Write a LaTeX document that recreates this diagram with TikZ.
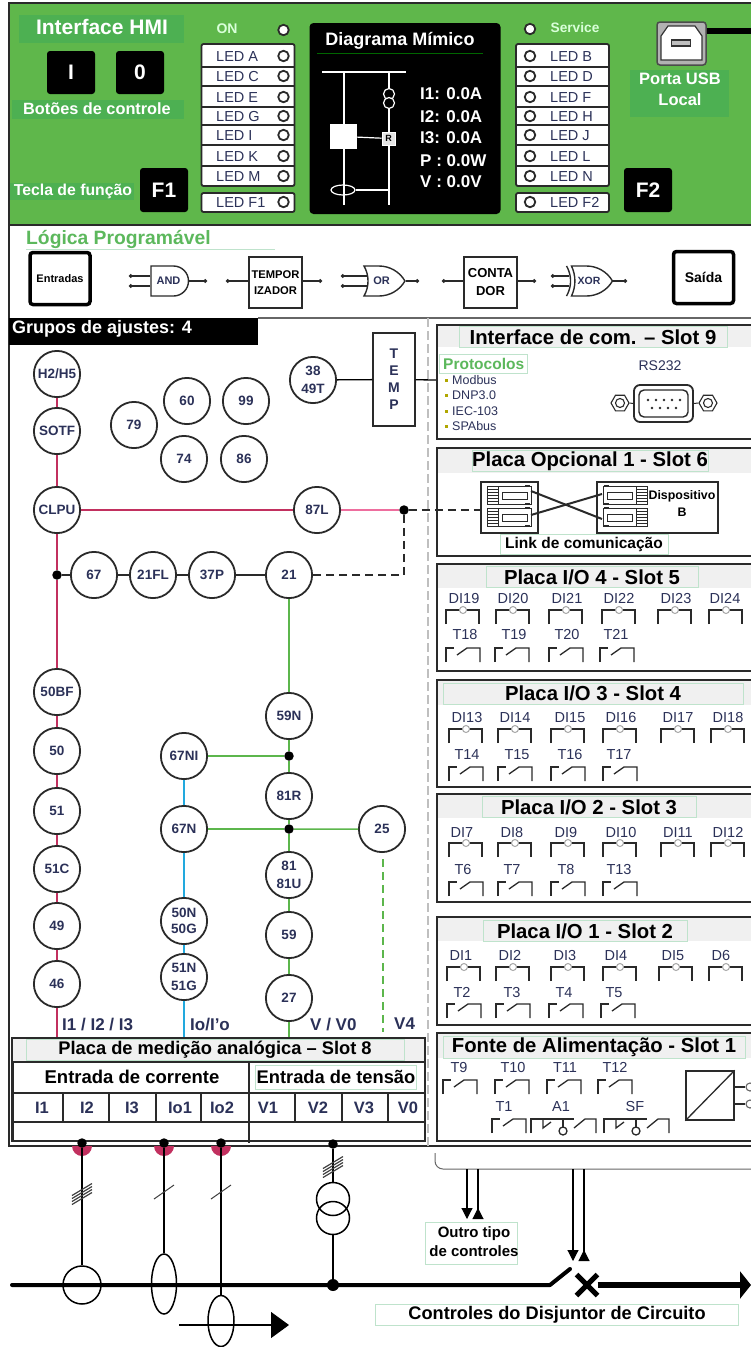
\documentclass[tikz,border=0pt]{standalone}
\usepackage{fontspec}
\setmainfont{Liberation Sans}
\usetikzlibrary{arrows.meta, positioning, shapes.geometric, shapes.gates.logic.US, shapes.misc}
\definecolor{panelgreen}{HTML}{5FB74B}
\definecolor{tagreen}{HTML}{4DB052}
\definecolor{titlegreen}{HTML}{5CB85C}
\definecolor{hairgreen}{HTML}{BFE3CC}
\definecolor{bandgray}{HTML}{F0F0F0}
\definecolor{crimson}{HTML}{C2305F}
\definecolor{pinkline}{HTML}{EE6E9E}
\definecolor{relaygreen}{HTML}{5CB64C}
\definecolor{relayblue}{HTML}{22A9DE}
\definecolor{inkblue}{HTML}{2B3158}
\definecolor{inkline}{HTML}{2A2A2A}
\newcommand{\sz}[1]{\fontsize{#1pt}{#1pt}\selectfont}

% binary input contact, open on the bottom side
\newcommand{\dicont}[2]{
  \draw[contact] (#1,#2+14) -- (#1,#2) -- (#1+33,#2) -- (#1+33,#2+14);
  \draw[lamp] (#1+17,#2) circle[radius=3.5];
}
% output contact
\newcommand{\tcont}[2]{
  \draw[contact] (#1,#2+14) -- (#1,#2) -- (#1+8,#2);
  \draw[contact] (#1+11,#2+7) -- (#1+21,#2) -- (#1+34,#2) -- (#1+34,#2+14);
}
% changeover contact with its common terminal
\newcommand{\chcont}[2]{
  \draw[contact] (#1,#2+14) -- (#1,#2) -- (#1+43,#2);
  \draw[contact] (#1+12,#2) -- (#1+12,#2+9) -- (#1+20,#2+3);
  \draw[contact] (#1+43,#2+9) -- (#1+54,#2) -- (#1+65,#2) -- (#1+65,#2+14);
  \draw[contact] (#1+32,#2) -- (#1+32,#2+8);
  \draw[contact, fill=white] (#1+32,#2+12) circle[radius=4];
}
% slot frame, open at the right edge, with its grey title band
\newcommand{\slotframe}[3]{
  \fill[bandgray] (437,#1) rectangle (751,#3);
  \draw[line width=1.5pt, inkline] (751,#1) -- (437,#1) -- (437,#2) -- (751,#2);
}
% fibre connector, #3 = 1 strip on the left, -1 strip on the right
\newcommand{\fibre}[3]{
  \begin{scope}[shift={(#1,#2)}, x=#3pt]
    \draw[fibreline] (0,0) rectangle (44,18);
    \draw[fibreline] (15,6) rectangle (40,13);
    \foreach \s in {3,6,...,15} \draw[fibreline] (0,\s) -- (11,\s);
    \draw[fibreline] (11,0) -- (11,18);
    \fill[inkline] (38,-1) rectangle (43,1);
    \fill[inkline] (38,17) rectangle (43,19);
  \end{scope}
}

\begin{document}
\begin{tikzpicture}[
  x=1pt, y=-1pt,
  panel/.style={fill=tagreen, minimum height=10pt, inner sep=0pt},
  tagtext/.style={text=white, font=\sz{16.3}\bfseries, inner sep=0pt, align=center},
  keycap/.style={fill=black, rounded corners=3pt, text=white, font=\sz{21}\bfseries, minimum width=48pt, minimum height=43pt, inner sep=0pt},
  ledbox/.style={draw=inkline, line width=1.8pt, fill=white, rounded corners=2pt, minimum width=93pt, inner sep=0pt},
  ledtext/.style={font=\sz{14.5}, text=inkblue, inner sep=0pt, anchor=west, text height=10.4pt, text depth=0pt},
  ledlamp/.style={circle, draw=inkline, line width=1.8pt, fill=white, minimum size=10.5pt, inner sep=0pt},
  mimic/.style={line width=1.2pt, draw=white},
  readout/.style={text=white, font=\sz{17}\bfseries, inner sep=0pt, anchor=west, text height=12.2pt, text depth=0pt},
  pin/.style={line width=1.3pt, inkline, -{Circle[length=3.5pt]}},
  gatebox/.style={draw=inkline, line width=1.4pt, fill=white, minimum width=37pt, minimum height=30pt, inner sep=0pt, logic gate inputs=nn, text=inkblue, font=\sz{11}\bfseries},
  probox/.style={draw=inkline, line width=1.2pt, fill=white, minimum width=53pt, minimum height=51pt, inner sep=0pt, align=center, font=\sz{13}\bfseries},
  iobox/.style={draw=black, line width=3.5pt, fill=white, rounded corners=3pt, minimum width=60pt, minimum height=52pt, inner sep=0pt, font=\sz{14}\bfseries},
  relay/.style={circle, draw=inkline, line width=1.8pt, fill=white, minimum size=46.2pt, inner sep=0pt, align=center, text=inkblue, font=\sz{13.5}\bfseries},
  jdot/.style={circle, fill=black, minimum size=9.5pt, inner sep=0pt},
  redline/.style={line width=1.5pt, crimson},
  greenline/.style={line width=1.5pt, relaygreen},
  blueline/.style={line width=1.5pt, relayblue},
  darkdash/.style={line width=1.1pt, inkline, dash pattern=on 8pt off 5pt},
  slottitle/.style={draw=hairgreen, fill=bandgray, minimum height=21pt, inner sep=0pt, font=\sz{20.3}\bfseries},
  iolabel/.style={text=inkblue, font=\sz{14.5}, inner sep=0pt, text height=10.4pt, text depth=0pt},
  contact/.style={line width=1.3pt, inkline},
  lamp/.style={line width=1pt, draw=black!35, fill=white},
  fibreline/.style={line width=1pt, inkline},
  cell/.style={text=inkblue, font=\sz{16.5}\bfseries, inner sep=0pt, text height=11.8pt, text depth=0pt},
  sigtext/.style={text=inkblue, font=\sz{17}\bfseries, inner sep=0pt},
  wire/.style={line width=1.1pt, black},
  sensor/.style={draw=black, line width=1.5pt, inner sep=0pt},
  note/.style={draw=hairgreen, fill=white, inner sep=0pt, align=center, font=\sz{15}\bfseries},
  flip/.style={{Triangle[reversed, length=11pt, width=11pt]}-},
  drop/.style={-{Triangle[length=11pt, width=11pt]}},
]
\useasboundingbox (0,0) rectangle (751,1347);

% ---- HMI panel ------------------------------------------------------------
\fill[white] (0,0) rectangle (751,1347);
\fill[panelgreen] (9,3) rectangle (751,225);
\draw[line width=1.2pt, inkline] (751,3) -- (9,3) -- (9,1146) -- (751,1146);
\draw[line width=1.2pt, inkline] (9,225) -- (751,225);

\node[panel, minimum width=165pt, minimum height=28pt] (hmibg) at (101.5,29) {};
\node[tagtext, font=\sz{21}\bfseries] (hmi) at (102,27) {Interface HMI};
\node[keycap] (keyon) at (71,72.5) {I};
\node[keycap] (keyoff) at (140,72.5) {0};
\node[panel, minimum width=172pt, minimum height=19pt] (btnbg) at (98,109) {};
\node[tagtext] (btn) at (97,109) {Botões de controle};
\node[panel, minimum width=124pt, minimum height=17pt] (fkeybg) at (72,191) {};
\node[tagtext, font=\sz{15.8}\bfseries] (fkey) at (73,191) {Tecla de função};
\node[keycap, minimum height=44pt] (keyfa) at (164,190) {F1};
\node[keycap, minimum height=44pt] (keyfb) at (648,190) {F2};

% LED columns, left lamps on the right and right lamps on the left
\node[tagtext, font=\sz{14}\bfseries, text=white!85!green] (ledon) at (227,29) {ON};
\node[ledlamp] (lampon) at (283.5,30) {};
\node[tagtext, font=\sz{13.7}\bfseries, text=white!85!green] (ledsv) at (575,28) {Service};
\node[ledlamp] (lampsv) at (530,29) {};
\node[ledbox, minimum height=142pt] (ledsa) at (248,115) {};
\node[ledbox, minimum height=142pt] (ledsb) at (562.5,115) {};
\node[ledbox, minimum height=19pt] (ledfa) at (248,202.5) {};
\node[ledbox, minimum height=19pt] (ledfb) at (562.5,202.5) {};
\foreach \yy in {67,86,107,125,145,166} {
  \draw[line width=1.2pt, inkline] (201.5,\yy) -- (294.5,\yy);
  \draw[line width=1.2pt, inkline] (516,\yy) -- (609,\yy);
}
\foreach \a/\b/\yy in {A/B/56, C/D/76, E/F/97, G/H/116, I/J/135, K/L/156, M/N/176, F1/F2/202} {
  \node[ledtext] (led\a) at (216,\yy) {LED \a};
  \node[ledlamp] (lamp\a) at (283.5,\yy) {};
  \node[ledtext] (led\b) at (550,\yy) {LED \b};
  \node[ledlamp] (lamp\b) at (530,\yy) {};
}

% mimic screen
\node[fill=black, rounded corners=4pt, minimum width=191pt, minimum height=191pt, inner sep=0pt] (screen) at (405,118.5) {};
\node[fill=black, minimum width=166pt, minimum height=25pt, inner sep=0pt, text=white, font=\sz{18}\bfseries] (mimtitle) at (400,40.5) {Diagrama Mímico};
\draw[line width=.5pt, green!40!black] (mimtitle.south west) -- (mimtitle.south east);
\coordinate (busl) at (322,72);
\coordinate (busr) at (406,72);
\coordinate (baya) at (344,72);
\coordinate (bayb) at (389,72);
\coordinate (bayae) at (344,205);
\coordinate (baybe) at (389,205);
\draw[mimic] (busl) -- (busr);
\draw[mimic] (baya) -- (bayae);
\draw[mimic] (bayb) -- (baybe);
\draw[mimic, fill=black] (389,94) circle[radius=5.5];
\draw[mimic, fill=black] (389,103) circle[radius=5.5];
\node[fill=white, minimum width=27pt, minimum height=25pt, inner sep=0pt] (brksq) at (343.5,136.5) {};
\node[draw=white, fill=black!10, line width=1pt, text=black, font=\sz{9}\bfseries, minimum width=13pt, minimum height=13pt, inner sep=0pt] (relr) at (388.5,138.5) {R};
\draw[mimic] (brksq) -- (relr);
\node[ellipse, draw=white, line width=1.2pt, minimum width=24pt, minimum height=10pt, inner sep=0pt] (mimct) at (343,190) {};
\coordinate (mimctr) at (389,190);
\draw[mimic] (mimct) -- (mimctr);
\node[readout] (rda) at (420,93) {I1: 0.0A};
\node[readout] (rdb) at (420,116) {I2: 0.0A};
\node[readout] (rdc) at (420,137) {I3: 0.0A};
\node[readout] (rdp) at (420,160) {P : 0.0W};
\node[readout] (rdv) at (420,181) {V : 0.0V};

% USB port
\node[draw=black!70, fill=black!30, line width=1.5pt, rounded corners=3pt, minimum width=49pt, minimum height=43pt, inner sep=0pt] (usb) at (681.5,43.5) {};
\coordinate (usbend) at (751,31);
\draw[line width=6.5pt, black] (usbend -| usb.east) -- (usbend);
\draw[line width=1.2pt, black!80, fill=white] (661,60) -- (661,36) -- (668,26) -- (695,26) -- (702,36) -- (702,60) -- cycle;
\node[draw=black!80, line width=1.2pt, fill=black!25, minimum width=19pt, minimum height=6pt, inner sep=0pt] (usbslot) at (681,43) {};
\node[panel, minimum width=99pt, minimum height=47pt] (usbbg) at (679.5,93.5) {};
\node[tagtext, font=\sz{16.5}\bfseries] (usba) at (680,79) {Porta USB};
\node[tagtext, font=\sz{16.5}\bfseries] (usbb) at (680,100) {Local};

% ---- programmable logic row -----------------------------------------------
\node[inner sep=0pt, anchor=west, text=titlegreen, font=\sz{19.3}\bfseries] (logic) at (26,239) {Lógica Programável};
\draw[hairgreen] (logic.south west) ++(0,1) -- ++(249,0);
\node[iobox, font=\sz{11}\bfseries] (inputs) at (60,278.5) {Entradas};
\node[iobox] (output) at (703.5,277.5) {Saída};
\node[and gate US, draw, gatebox] (andg) at (168.5,281) {AND};
\node[or gate US, draw, gatebox] (org) at (381.5,281) {OR};
\node[xor gate US, draw, gatebox, font=\sz{10.5}\bfseries] (xorg) at (589,281) {XOR};
\node[probox, font=\sz{11.2}\bfseries] (timer) at (275.5,282.5) {TEMPOR\\[5pt]IZADOR};
\node[probox] (counter) at (490.5,282.5) {CONTA\\[5pt]DOR};
\foreach \g/\xl/\xr in {andg/129/207, org/341/419, xorg/551/627} {
  \coordinate (l\g) at (\xl,281);
  \coordinate (r\g) at (\xr,281);
  \draw[pin] (\g.input 1) -- (\g.input 1 -| l\g);
  \draw[pin] (\g.input 2) -- (\g.input 2 -| l\g);
  \draw[pin] (\g.output) -- (r\g);
}
\foreach \g/\xl/\xr in {timer/226/322, counter/442/536} {
  \coordinate (l\g) at (\xl,281);
  \coordinate (r\g) at (\xr,281);
  \draw[pin] (\g.west |- l\g) -- (l\g);
  \draw[pin] (\g.east |- r\g) -- (r\g);
}

% ---- protection functions -------------------------------------------------
\coordinate (ruler) at (751,318);
\coordinate (rulel) at (258,318);
\draw[line width=1.2pt, black!60] (rulel) -- (ruler);
\node[fill=black, anchor=north west, minimum width=249pt, minimum height=27pt, inner sep=0pt] (groupbg) at (9,318) {};
\node[anchor=west, inner sep=0pt, text=white, font=\sz{18}\bfseries] (group) at (12,329) {Grupos de ajustes: 4};
\coordinate (sept) at (428,318);
\coordinate (sepb) at (428,1146);
\draw[line width=1.5pt, black!25, dash pattern=on 9pt off 4pt] (sept) -- (sepb);

\node[relay] (rh2) at (57,374) {H2/H5};
\node[relay, below=9pt of rh2] (rsotf) {SOTF};
\node[relay, below=31pt of rsotf] (rclpu) {CLPU};
\node[relay, below=134pt of rclpu] (r50bf) {50BF};
\node[relay, below=11pt of r50bf] (r50) {50};
\node[relay, below=12pt of r50] (r51) {51};
\node[relay, below=10pt of r51] (r51c) {51C};
\node[relay, below=9pt of r51c] (r49) {49};
\node[relay, below=10pt of r49] (r46) {46};
\node[relay] (r79) at (134,425) {79};
\node[relay] (r60) at (187,401) {60};
\node[relay] (r99) at (246,401) {99};
\node[relay] (r74) at (184,459) {74};
\node[relay] (r86) at (244,459) {86};
\node[relay] (r38) at (313,380) {38\\[4pt]49T};
\node[relay, right=212pt of rclpu] (r87l) {87L};
\node[relay] (r67) at (94,575) {67};
\node[relay, right=11pt of r67] (r21fl) {21FL};
\node[relay, right=11pt of r21fl] (r37p) {37P};
\node[relay, right=29pt of r37p] (r21) {21};
\node[relay, below=93pt of r21] (r59n) {59N};
\node[relay, below=32pt of r59n] (r81r) {81R};
\node[relay, below=31pt of r81r] (r81) {81\\[4pt]81U};
\node[relay, below=12pt of r81] (r59) {59};
\node[relay, below=15pt of r59] (r27) {27};
\node[relay] (r67ni) at (184,756) {67NI};
\node[relay, below=25pt of r67ni] (r67n) {67N};
\node[relay, below=44pt of r67n] (r50n) {50N\\[3pt]50G};
\node[relay, below=8pt of r50n] (r51n) {51N\\[4pt]51G};
\node[relay] (r25) at (382,829) {25};

\node[jdot] (dotc) at (rclpu |- r67) {};
\coordinate (dotrx) at (404,510);
\node[jdot] (dotr) at (dotrx |- r87l) {};
\node[jdot] (dotni) at (r59n |- r67ni) {};
\node[jdot] (dotn) at (r59n |- r67n) {};

% analog board comes here so the signal lines can end on it
\node[draw=inkline, line width=2pt, minimum width=412pt, minimum height=102pt, inner sep=0pt] (plate) at (219,1090) {};

\foreach \a/\b in {rh2/rsotf, rsotf/rclpu, rclpu/dotc, dotc/r50bf, r50bf/r50, r50/r51, r51/r51c, r51c/r49, r49/r46}
  \draw[redline] (\a) -- (\b);
\draw[redline] (r46) -- (r46 |- plate.north);
\draw[redline] (rclpu) -- (r87l);
\draw[line width=1.5pt, pinkline] (r87l) -- (dotr);
\foreach \a/\b in {dotc/r67, r67/r21fl, r21fl/r37p, r37p/r21}
  \draw[line width=1.2pt, inkline] (\a) -- (\b);
\foreach \a/\b in {r21/r59n, r59n/dotni, dotni/r81r, r81r/dotn, dotn/r81, r81/r59, r59/r27, dotni/r67ni, dotn/r67n, dotn/r25}
  \draw[greenline] (\a) -- (\b);
\draw[greenline] (r27) -- (r27 |- plate.north);
\foreach \a/\b in {r67ni/r67n, r67n/r50n, r50n/r51n}
  \draw[blueline] (\a) -- (\b);
\draw[blueline] (r51n) -- (r51n |- plate.north);
\coordinate (v4t) at (383,859);
\coordinate (v4b) at (383,1032);
\draw[line width=1.2pt, relaygreen, dash pattern=on 8pt off 5pt] (v4t) -- (v4b);
\draw[darkdash] (dotr) |- (r21);

\node[draw=inkline, line width=1.3pt, fill=white, minimum width=42pt, minimum height=93pt, inner sep=0pt, align=center, font=\sz{14}\bfseries, text=inkblue] (temp) at (394,379.5) {T\\[3pt]E\\[3pt]M\\[3pt]P};
\draw[line width=1.3pt, black] (r38) -- (temp);
\coordinate (tempend) at (437,380);
\draw[line width=1.3pt, black] (temp) -- (tempend);

\node[sigtext, anchor=west] (sigi) at (62,1024) {I1 / I2 / I3};
\node[sigtext, anchor=west] (sigo) at (190,1024) {Io/I'o};
\node[sigtext, anchor=west] (sigv) at (310,1024) {V / V0};
\node[sigtext, anchor=west] (sigf) at (394,1024) {V4};

% ---- analog measuring board -----------------------------------------------
\fill[bandgray] (plate.north west) rectangle (425,1062);
\draw[line width=2pt, inkline] (plate.north west) ++(0,0) rectangle (425,1141);
\node[slottitle, minimum width=378pt, font=\sz{18.3}\bfseries] (platetitle) at (215,1050) {Placa de medição analógica – Slot 8};
\coordinate (rowal) at (13,1062);
\coordinate (rowbl) at (13,1093);
\coordinate (rowcl) at (13,1122);
\foreach \r in {rowal, rowbl, rowcl} \draw[line width=1.5pt, inkline] (\r) -- (\r -| plate.east);
\coordinate (midt) at (249,1062);
\coordinate (midb) at (249,1143);
\draw[line width=1.5pt, inkline] (midt) -- (midb);
\foreach \xx in {63,109,156,201,295,342,388} \draw[line width=1.3pt, inkline] (\xx,1093) -- (\xx,1122);
\node[font=\sz{18.5}\bfseries, inner sep=0pt] (incur) at (132,1077) {Entrada de corrente};
\node[draw=hairgreen, minimum width=161pt, minimum height=24pt, inner sep=0pt, font=\sz{18.3}\bfseries] (involt) at (336,1077) {Entrada de tensão};
\foreach \t/\xx in {I1/42, I2/87, I3/132, Io1/180, Io2/222, V1/268, V2/318, V3/364, V0/408}
  \node[cell] (cell\t) at (\xx,1108) {\t};

% ---- slots ----------------------------------------------------------------
\slotframe{325}{439}{347}
\node[slottitle] (slota) at (593,337) [minimum width=268pt] {Interface de com. – Slot 9};
\node[draw=hairgreen, fill=white, minimum width=88pt, minimum height=19pt, inner sep=0pt] (protobg) at (483,363.5) {};
\node[anchor=west, inner sep=0pt, text=titlegreen, font=\sz{15.5}\bfseries] (proto) at (443,364) {Protocolos};
\foreach \t/\yy/\n in {Modbus/380/pa, DNP3.0/395/pb, IEC-103/411/pc, SPAbus/426/pd} {
  \node[anchor=west, inner sep=0pt, text=inkblue, font=\sz{12.5}] (\n) at (452,\yy) {\t};
  \fill[olive!70!yellow] (445,\yy-1.5) rectangle (448,\yy+1.5);
}
\node[text=inkblue, inner sep=0pt, font=\sz{14}] (rstxt) at (660,366) {RS232};
\node[draw=inkline, line width=1.8pt, rounded corners=6pt, minimum width=59pt, minimum height=37pt, inner sep=0pt] (dbshell) at (663.5,403.5) {};
\node[draw=inkline, line width=1.4pt, rounded corners=5pt, minimum width=49pt, minimum height=27pt, inner sep=0pt, fill=white] (dbface) at (663.5,403.5) {};
\foreach \xx in {648,656,664,672,680} \fill[inkline] (\xx,400) circle[radius=1.3];
\foreach \xx in {652,660,668,676} \fill[inkline] (\xx,408) circle[radius=1.3];
\foreach \n/\xx in {nuta/620, nutb/708} {
  \node[regular polygon, regular polygon sides=6, draw=inkline, line width=1.1pt, minimum size=18pt, inner sep=0pt] (\n) at (\xx,403) {};
  \draw[inkline, line width=1.1pt] (\n) circle[radius=4.5];
}
\draw[line width=1pt, inkline] (nuta.east) -- (dbshell.west);
\draw[line width=1pt, inkline] (nutb.west) -- (dbshell.east);

\slotframe{448}{556}{473}
\node[slottitle] (slotb) at (590,461) [minimum width=236pt] {Placa Opcional 1 - Slot 6};
\node[draw=inkline, line width=1.4pt, minimum width=57pt, minimum height=51pt, inner sep=0pt] (flink) at (509.5,507.5) {};
\node[draw=inkline, line width=1.4pt, minimum width=121pt, minimum height=51pt, inner sep=0pt] (fdev) at (657.5,507.5) {};
\fibre{487}{486}{1}
\fibre{487}{508}{1}
\fibre{647}{486}{-1}
\fibre{647}{508}{-1}
\coordinate (crossa) at (531,491);
\coordinate (crossb) at (602,519);
\coordinate (crossc) at (531,515);
\coordinate (crossd) at (602,494);
\draw[line width=2pt, inkline] (crossa) -- (crossb);
\draw[line width=2pt, inkline] (crossc) -- (crossd);
\node[inner sep=0pt, align=center, font=\sz{12.4}\bfseries] (devb) at (682,503.5) {Dispositivo\\[4pt]B};
\node[draw=hairgreen, fill=white, minimum width=168pt, minimum height=20pt, inner sep=0pt, font=\sz{15.5}\bfseries] (linktxt) at (584,544) {Link de comunicação};
\draw[darkdash] (dotr) -- (flink.west |- dotr);

\slotframe{564}{671}{588}
\node[slottitle] (slotc) at (592,577) [minimum width=212pt] {Placa I/O 4 - Slot 5};
\foreach \t/\lx/\cx in {DI19/464/446, DI20/513/496, DI21/567/549, DI22/619/602, DI23/676/658, DI24/725/709} {
  \node[iolabel] (\t) at (\lx,598) {\t};
  \dicont{\cx}{610}
}
\foreach \t/\lx/\cx in {T18/465/446, T19/514/495, T20/567/549, T21/616/600} {
  \node[iolabel] (\t) at (\lx,634) {\t};
  \tcont{\cx}{648}
}

\slotframe{680}{787}{705}
\node[slottitle] (slotd) at (593,693.5) [minimum width=300pt] {Placa I/O 3 - Slot 4};
\foreach \t/\lx/\cx in {DI13/467/449, DI14/515/498, DI15/570/551, DI16/621/603, DI17/678/661, DI18/728/711} {
  \node[iolabel] (\t) at (\lx,717) {\t};
  \dicont{\cx}{729}
}
\foreach \t/\lx/\cx in {T14/467/449, T15/517/498, T16/570/551, T17/619/603} {
  \node[iolabel] (\t) at (\lx,754) {\t};
  \tcont{\cx}{767}
}

\slotframe{794}{902}{818}
\node[slottitle] (slote) at (589,807) [minimum width=214pt] {Placa I/O 2 - Slot 3};
\foreach \t/\lx/\cx in {DI7/462/449, DI8/512/498, DI9/566/551, DI10/621/603, DI11/678/661, DI12/728/711} {
  \node[iolabel] (\t) at (\lx,832) {\t};
  \dicont{\cx}{843}
}
\foreach \t/\lx/\cx in {T6/463/449, T7/512/498, T8/566/551, T13/619/603} {
  \node[iolabel] (\t) at (\lx,869) {\t};
  \tcont{\cx}{882}
}

\slotframe{917}{1025}{941}
\node[slottitle] (slotf) at (585,931) [minimum width=204pt] {Placa I/O 1 - Slot 2};
\foreach \t/\lx/\cx in {DI1/461/447, DI2/510/496, DI3/565/551, DI4/616/603, DI5/673/659, D6/721/709} {
  \node[iolabel] (\t) at (\lx,955) {\t};
  \dicont{\cx}{967}
}
\foreach \t/\lx/\cx in {T2/462/447, T3/512/496, T4/564/549, T5/614/601} {
  \node[iolabel] (\t) at (\lx,992) {\t};
  \tcont{\cx}{1004}
}

\slotframe{1033}{1141}{1058}
\node[slottitle, minimum height=22pt] (slotg) at (594,1047) [minimum width=302pt] {Fonte de Alimentação - Slot 1};
\foreach \t/\lx/\cx in {T9/459/443, T10/513/495, T11/565/547, T12/615/598} {
  \node[iolabel] (\t) at (\lx,1067) {\t};
  \tcont{\cx}{1080}
}
\node[iolabel] (T1) at (504,1106) {T1};
\node[iolabel] (A1) at (561,1106) {A1};
\node[iolabel] (SF) at (635,1106) {SF};
\tcont{492}{1119}
\chcont{531}{1119}
\chcont{604}{1119}
\node[draw=inkline, line width=1.3pt, minimum width=48pt, minimum height=49pt, inner sep=0pt] (conv) at (710,1095.5) {};
\draw[line width=1.3pt, inkline] (conv.south west) -- (conv.north east);
\node[circle, draw=black!60, line width=1.1pt, minimum size=8pt, inner sep=0pt] (ssa) at (750,1087) {};
\node[circle, draw=black!60, line width=1.1pt, minimum size=8pt, inner sep=0pt] (ssb) at (750,1104) {};
\draw[line width=1.1pt, inkline] (ssa -| conv.east) -- (ssa);
\draw[line width=1.1pt, inkline] (ssb -| conv.east) -- (ssb);

% ---- outputs to the switchgear ---------------------------------------------
\draw[line width=1pt, black!60, rounded corners=8pt] (435,1153) -- (435,1169) -- (760,1169) -- (760,1153);
\coordinate (brcta) at (467,1169);
\coordinate (brctb) at (478,1169);
\coordinate (brctc) at (573,1169);
\coordinate (brctd) at (584,1169);
\coordinate (tipa) at (467,1219);
\coordinate (tipb) at (478,1219);
\coordinate (tipc) at (573,1261);
\coordinate (tipd) at (584,1261);
\draw[wire, drop] (brcta) -- (tipa);
\draw[wire, flip] (tipb) -- (brctb);
\draw[wire, drop] (brctc) -- (tipc);
\draw[wire, flip] (tipd) -- (brctd);
\node[note, minimum width=92pt, minimum height=42pt] (other) at (471,1243.5) {};
\node[inner sep=0pt, align=center, font=\sz{15}\bfseries] (othertxt) at (474,1242) {Outro tipo\\[4pt]de controles};
\node[note, minimum width=363pt, minimum height=21pt, font=\sz{18.2}\bfseries] (brkctl) at (557,1315) {Controles do Disjuntor de Circuito};

% ---- primary circuit -------------------------------------------------------
\foreach \xx in {82,164,221}
  \fill[crimson] (\xx-10,1146) arc[start angle=180, end angle=0, radius=10] -- cycle;
\node[jdot] (tia) at (82,1143) {};
\node[jdot] (tib) at (164,1143) {};
\node[jdot] (tic) at (221,1143) {};
\node[jdot] (tiv) at (333,1144) {};
\coordinate (busleft) at (12,1285);
\coordinate (busknee) at (550,1285);
\coordinate (busopen) at (570,1269);
\node[jdot, minimum size=12pt] (busdot) at (333,1285) {};
\node[circle, sensor, minimum size=38pt] (cta) at (82,1285) {};
\node[ellipse, sensor, minimum width=25pt, minimum height=60pt] (ctb) at (164,1284) {};
\node[ellipse, sensor, minimum width=26pt, minimum height=51pt] (ctc) at (221,1321) {};
\node[circle, sensor, minimum size=33pt] (vta) at (333,1199) {};
\node[circle, sensor, minimum size=33pt] (vtb) at (333,1218) {};
\draw[wire] (tia) -- (cta);
\draw[wire] (tib) -- (ctb);
\draw[wire] (tic) -- (ctc);
\draw[wire] (tiv) -- (vta);
\draw[wire] (vtb) -- (busdot);
\draw[line width=4pt, line cap=round, line join=round, black] (busleft) -- (busknee) -- (busopen);
\coordinate (hasha) at (82,1192);
\coordinate (hashb) at (164,1192);
\coordinate (hashc) at (221,1192);
\coordinate (hashv) at (333,1165);
\foreach \d in {-4.5,-1.5,1.5,4.5} {
  \draw[line width=1.2pt, black!75] ([shift={(-10,8+\d)}]hasha) -- ([shift={(10,-4+\d)}]hasha);
  \draw[line width=1.2pt, black!75] ([shift={(-10,8+\d)}]hashv) -- ([shift={(10,-4+\d)}]hashv);
}
\draw[line width=1pt, black!75] ([shift={(-10,7)}]hashb) -- ([shift={(10,-7)}]hashb);
\draw[line width=1pt, black!75] ([shift={(-10,7)}]hashc) -- ([shift={(10,-7)}]hashc);
\coordinate (flowa) at (179,1325);
\coordinate (flowb) at (289,1325);
\draw[line width=1.2pt, -{Triangle[length=18pt, width=26pt]}] (flowa) -- (flowb);
\node[cross out, draw=black, line width=5pt, minimum size=16pt, inner sep=0pt] (brk) at (587,1285) {};
\coordinate (busright) at (751,1285);
\draw[line width=6pt, -{Triangle[length=11pt, width=27pt]}] (brk) -- (busright);
\end{tikzpicture}
\end{document}
